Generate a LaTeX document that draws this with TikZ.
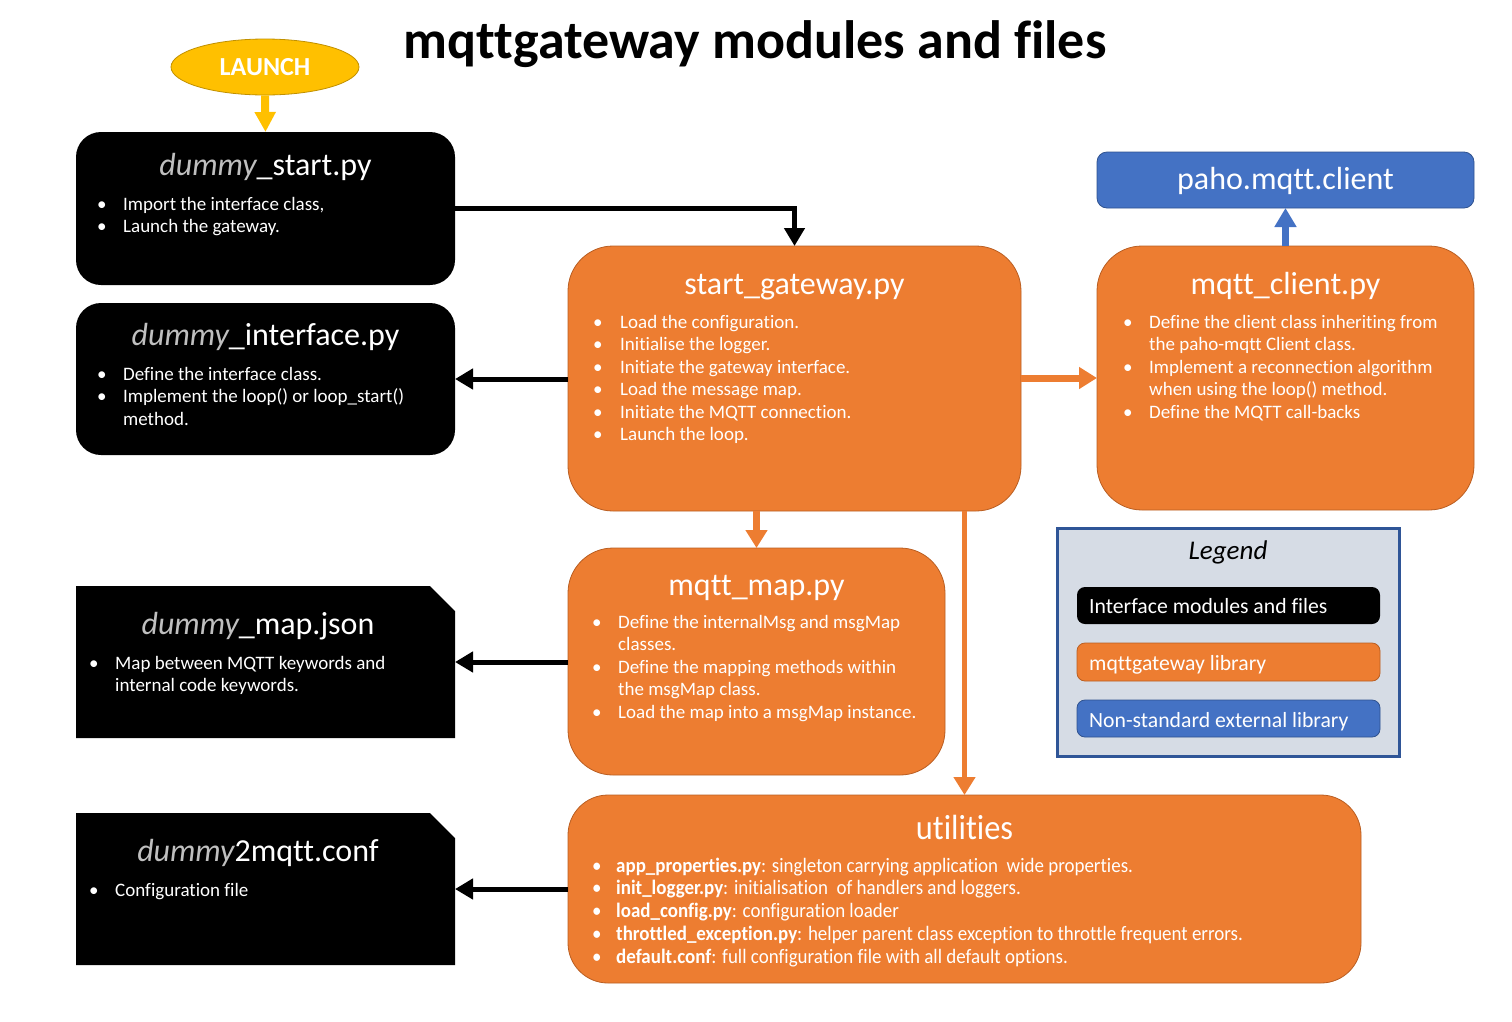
\documentclass[tikz,border=0pt]{standalone}
\usepackage{fontspec}
\setmainfont{Carlito}[Ligatures={NoCommon}]
\newfontfamily\condfont{Carlito}[FakeStretch=0.925,Ligatures={NoCommon}]
\usetikzlibrary{arrows.meta,shapes.geometric}
\definecolor{orangeF}{HTML}{ED7D31}
\definecolor{orangeD}{HTML}{B95E22}
\definecolor{blueF}{HTML}{4472C4}
\definecolor{blueD}{HTML}{2F528F}
\definecolor{legD}{HTML}{2F5597}
\definecolor{legF}{HTML}{D6DCE5}
\definecolor{goldF}{HTML}{FFC000}
\definecolor{goldD}{HTML}{C09000}
\definecolor{dgray}{HTML}{BFBFBF}
\tikzset{
  blackbox/.style={fill=black, rounded corners=25pt, inner sep=0pt, outer sep=0pt},
  plainbox/.style={inner sep=0pt, outer sep=0pt},
  orangebox/.style={fill=orangeF, draw=orangeD, line width=0.8pt, rounded corners=#1, inner sep=0pt, outer sep=0pt},
  bluebox/.style={fill=blueF, draw=blueD, line width=0.8pt, rounded corners=#1, inner sep=0pt, outer sep=0pt},
  ttl/.style={text=white, font=\fontsize{32}{36}\selectfont, anchor=base, inner sep=0pt},
  txt/.style={text=white, font=\fontsize{19}{22.5}\selectfont, anchor=base west, inner sep=0pt, align=left},
  legtxt/.style={text=white, font=\fontsize{21.7}{24}\selectfont, anchor=base west, inner sep=0pt},
  blackarrow/.style={draw=black, line width=5pt, -{Triangle[width=20pt,length=18pt]}},
  orangearrow/.style={draw=orangeF, line width=#1, -{Triangle[width=21pt,length=18pt]}},
  bluearrow/.style={draw=blueF, line width=7pt, -{Triangle[width=21pt,length=19pt]}},
  goldarrow/.style={draw=goldF, line width=8pt, -{Triangle[width=20pt,length=20pt]}},
}
\newcommand\bl{\textbullet}
\begin{document}
\begin{tikzpicture}[x=1pt,y=-1pt]
\useasboundingbox (0,0) rectangle (1512,1021);

% title
\node[anchor=base, inner sep=0pt, font=\fontsize{54}{60}\selectfont\bfseries] (title) at (755,58) {mqttgateway modules and files};

% launch
\node[ellipse, fill=goldF, draw=goldD, line width=0.8pt, minimum width=188pt, minimum height=56pt, inner sep=0pt,
      text=white, font=\fontsize{26}{28}\selectfont\bfseries] (launch) at (265,67) {LAUNCH};

% black interface boxes
\node[blackbox, minimum width=379pt, minimum height=153pt] (start) at (265.5,208.5) {};
\node[blackbox, minimum width=379pt, minimum height=152pt] (iface) at (265.5,379) {};
\node[plainbox, minimum width=379pt, minimum height=152pt] (dmap) at (265.5,662) {};
\node[plainbox, minimum width=379pt, minimum height=152pt] (conf) at (265.5,889) {};
\fill[black] (dmap.south west) -- (dmap.north west) -- ([xshift=-25pt]dmap.north east) -- ([yshift=-25pt]dmap.north east) -- (dmap.south east) -- cycle;
\fill[black] (conf.south west) -- (conf.north west) -- ([xshift=-25pt]conf.north east) -- ([yshift=-25pt]conf.north east) -- (conf.south east) -- cycle;

% orange library boxes
\node[orangebox=45pt, minimum width=453pt, minimum height=265pt] (gw) at (794.5,378.5) {};
\node[orangebox=45pt, minimum width=377pt, minimum height=264pt] (client) at (1285.5,378) {};
\node[orangebox=45pt, minimum width=377pt, minimum height=227pt] (mmap) at (756.5,661.5) {};
\node[orangebox=40pt, minimum width=793pt, minimum height=188pt] (util) at (964.5,889) {};
\node[bluebox=10pt, minimum width=377pt, minimum height=56pt] (paho) at (1285.5,180) {};

% legend
\node[fill=legF, draw=legD, line width=3pt, minimum width=342pt, minimum height=228pt, inner sep=0pt] (legend) at (1228,642) {};
\node[fill=black, rounded corners=8pt, minimum width=303pt, minimum height=37pt, inner sep=0pt] (leg1) at (1228.5,605.5) {};
\node[orangebox=8pt, minimum width=303pt, minimum height=38pt] (leg2) at (1228.5,662) {};
\node[bluebox=8pt, minimum width=303pt, minimum height=37pt] (leg3) at (1228.5,718.5) {};
\node[anchor=base, inner sep=0pt, font=\fontsize{27}{30}\selectfont\itshape] (legttl) at (1228,559) {Legend};
\node[legtxt] (leg1t) at (1089,613) {Interface modules and files};
\node[legtxt] (leg2t) at (1089,670) {mqttgateway library};
\node[legtxt] (leg3t) at (1089,727) {Non-standard external library};

% titles
\node[ttl] (startttl) at (265.5,175.5) {{\color{dgray}\itshape dummy}\_start.py};
\node[ttl] (ifacettl) at (265.5,345.5) {{\color{dgray}\itshape dummy}\_interface.py};
\node[ttl] (dmapttl) at (258,634.5) {{\color{dgray}\itshape dummy}\_map.json};
\node[ttl] (confttl) at (258,861.5) {{\color{dgray}\itshape dummy}2mqtt.conf};
\node[ttl] (gwttl) at (794.5,294.5) {start\_gateway.py};
\node[ttl] (clientttl) at (1285.5,294.5) {mqtt\_client.py};
\node[ttl] (mmapttl) at (756.5,595.5) {mqtt\_map.py};
\node[ttl, font=\condfont\fontsize{35}{38}\selectfont] (utilttl) at (964.5,839.5) {utilities};
\node[ttl] (pahottl) at (1285.5,189.5) {paho.mqtt.client};

% bullet texts
\node[txt] (starttxt) at (97,210) {\begin{tabular}[t]{@{}p{26pt}@{}l@{}}
\bl & Import the interface class,\\
\bl & Launch the gateway.
\end{tabular}};
\node[txt] (ifacetxt) at (97,380) {\begin{tabular}[t]{@{}p{26pt}@{}l@{}}
\bl & Define the interface class.\\
\bl & Implement the loop() or loop\_start()\\
    & method.
\end{tabular}};
\node[txt] (dmaptxt) at (89,669) {\begin{tabular}[t]{@{}p{26pt}@{}l@{}}
\bl & Map between MQTT keywords and\\
    & internal code keywords.
\end{tabular}};
\node[txt] (conftxt) at (89,896) {\begin{tabular}[t]{@{}p{26pt}@{}l@{}}
\bl & Configuration file
\end{tabular}};
\node[txt] (gwtxt) at (593,328) {\begin{tabular}[t]{@{}p{27pt}@{}l@{}}
\bl & Load the configuration.\\
\bl & Initialise the logger.\\
\bl & Initiate the gateway interface.\\
\bl & Load the message map.\\
\bl & Initiate the MQTT connection.\\
\bl & Launch the loop.
\end{tabular}};
\node[txt] (clienttxt) at (1123,328) {\begin{tabular}[t]{@{}p{26pt}@{}l@{}}
\bl & Define the client class inheriting from\\
    & the paho-mqtt Client class.\\
\bl & Implement a reconnection algorithm\\
    & when using the loop() method.\\
\bl & Define the MQTT call-backs
\end{tabular}};
\node[txt] (mmaptxt) at (592,628) {\begin{tabular}[t]{@{}p{26pt}@{}l@{}}
\bl & Define the internalMsg and msgMap\\
    & classes.\\
\bl & Define the mapping methods within\\
    & the msgMap class.\\
\bl & Load the map into a msgMap instance.
\end{tabular}};
\node[txt, font=\condfont\fontsize{20.5}{22.8}\selectfont] (utiltxt) at (592,872) {\begin{tabular}[t]{@{}p{24pt}@{}l@{}}
\bl & \textbf{app\_properties.py}: singleton carrying application\ \ wide properties.\\
\bl & \textbf{init\_logger.py}: initialisation\ \ of handlers and loggers.\\
\bl & \textbf{load\_config.py}: configuration loader\\
\bl & \textbf{throttled\_exception.py}: helper parent class exception to throttle frequent errors.\\
\bl & \textbf{default.conf}: full configuration file with all default options.
\end{tabular}};

% connectors
\draw[goldarrow] (launch.south) -- (start.north);
\draw[blackarrow] (start.east) -| (gw.north);
\draw[blackarrow] (gw.west |- iface.east) -- (iface.east);
\draw[orangearrow=7pt] (gw.east |- client.west) -- (client.west);
\draw[orangearrow=7pt] (gw.south -| mmap.north) -- (mmap.north);
\draw[orangearrow=5pt] (gw.south -| util.north) -- (util.north);
\draw[blackarrow] (mmap.west |- dmap.east) -- (dmap.east);
\draw[blackarrow] (util.west |- conf.east) -- (conf.east);
\draw[bluearrow] (client.north -| paho.south) -- (paho.south);
\end{tikzpicture}
\end{document}
